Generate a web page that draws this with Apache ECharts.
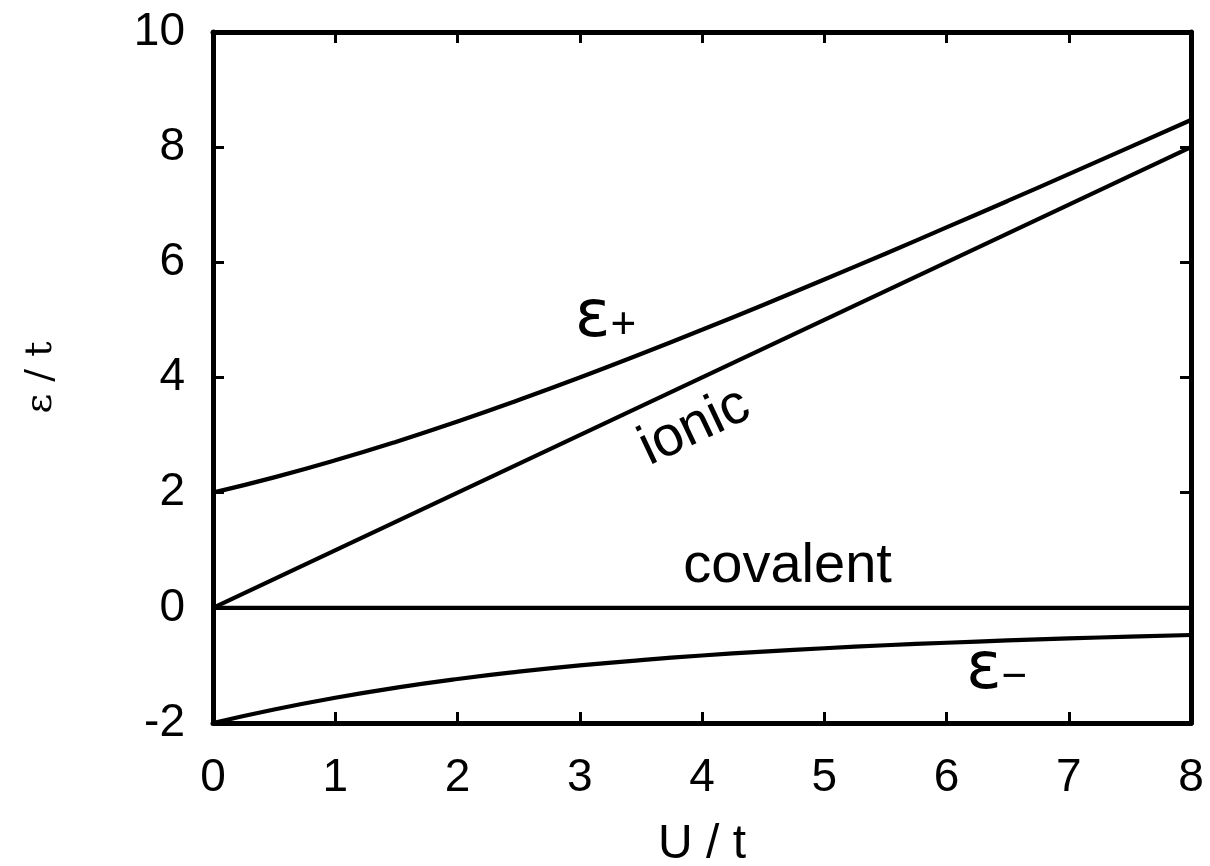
<!DOCTYPE html>
<html><head><meta charset="utf-8">
<script src="https://cdn.jsdelivr.net/npm/echarts@6/dist/echarts.min.js"></script>
<style>html,body{margin:0;padding:0;background:#fff}#c{width:1210px;height:866px}</style>
</head><body><div id="c"></div>
<script>
const U = [0,0.5,1,1.5,2,2.5,3,3.5,4,4.5,5,5.5,6,6.5,7,7.5,8];
const epsPlus = [2,2.266,2.562,2.886,3.236,3.609,4.0,4.408,4.828,5.260,5.702,6.150,6.606,7.066,7.531,8.0,8.472];
const epsMinus = [-2,-1.766,-1.562,-1.386,-1.236,-1.109,-1.0,-0.908,-0.828,-0.760,-0.702,-0.650,-0.606,-0.566,-0.531,-0.5,-0.472];
const ionicU = [0,8];
const ionicE = [0,8];
const covalentU = [0,8];
const covalentE = [0,0];
const annotText = ['ε+', 'ε−', 'ionic', 'covalent'];
const annotX = [3.21, 6.41, 3.94, 4.70];
const annotY = [5.01, -1.10, 3.14, 0.71];

const pair = (xs, ys) => xs.map((x,i)=>[x, ys[i]]);
const F = '"Liberation Sans", Arial, Helvetica, sans-serif';
const axisCommon = () => ({
  axisLine:{show:true, onZero:false, lineStyle:{color:'#000', width:5}},
  axisTick:{show:true, inside:true, length:11, lineStyle:{color:'#000', width:3}},
  splitLine:{show:false}
});
const chart = echarts.init(document.getElementById('c'));
const lineStyle = {color:'#000', width:4.2};

function renderAnnot(params, api) {
  const i = api.value(2);
  const p = api.coord([api.value(0), api.value(1)]);
  const t = annotText[i];
  if (t[0] === 'ε') {
    return {type:'text', x:p[0], y:p[1], style:{
      text:'{e|ε}{s|' + t.slice(1) + '}', align:'center', verticalAlign:'middle', fill:'#000',
      rich:{
        e:{font:'66px "DejaVu Sans", sans-serif', fill:'#000', lineHeight:66, verticalAlign:'middle'},
        s:{font:'44px "Liberation Sans", Arial, sans-serif', fill:'#000', lineHeight:66, verticalAlign:'middle', padding:[14,0,0,0]}
      }}};
  }
  return {type:'text', x:p[0], y:p[1], rotation: t==='ionic' ? 25.3*Math.PI/180 : 0,
    style:{text:t, font:'56px "Liberation Sans", Arial, sans-serif', fill:'#000', align:'center', verticalAlign:'middle'}};
}

chart.setOption({
  animation:false,
  backgroundColor:'#fff',
  grid:{left:213, right:19, top:32, bottom:143, containLabel:false, outerBoundsMode:'none'},
  xAxis:[
    Object.assign({type:'value', position:'bottom', min:0, max:8, interval:1,
      name:'U / t', nameLocation:'middle', nameGap:98,
      nameTextStyle:{fontFamily:F, fontSize:48, color:'#000'},
      axisLabel:{show:true, margin:32, fontFamily:F, fontSize:46, color:'#000'}}, axisCommon()),
    Object.assign({type:'value', position:'top', min:0, max:8, interval:1, axisLabel:{show:false}}, axisCommon())
  ],
  yAxis:[
    Object.assign({type:'value', position:'left', min:-2, max:10, interval:2,
      name:'ε / t', nameLocation:'middle', nameGap:153, nameRotate:90,
      nameTextStyle:{fontFamily:'"DejaVu Serif", serif', fontSize:38, color:'#000'},
      axisLabel:{show:true, margin:28, fontFamily:F, fontSize:46, color:'#000'}}, axisCommon()),
    Object.assign({type:'value', position:'right', min:-2, max:10, interval:2, axisLabel:{show:false}}, axisCommon())
  ],
  series:[
    {type:'line', data:pair(U, epsPlus), smooth:true, showSymbol:false, lineStyle:lineStyle},
    {type:'line', data:pair(U, epsMinus), smooth:true, showSymbol:false, lineStyle:lineStyle},
    {type:'line', data:pair(ionicU, ionicE), showSymbol:false, lineStyle:lineStyle},
    {type:'line', data:pair(covalentU, covalentE), showSymbol:false, lineStyle:lineStyle},
    {type:'custom', coordinateSystem:'cartesian2d', silent:true, clip:false, z:10,
      data: annotText.map((t,i)=>[annotX[i], annotY[i], i]),
      renderItem: renderAnnot}
  ]
});
</script></body></html>
